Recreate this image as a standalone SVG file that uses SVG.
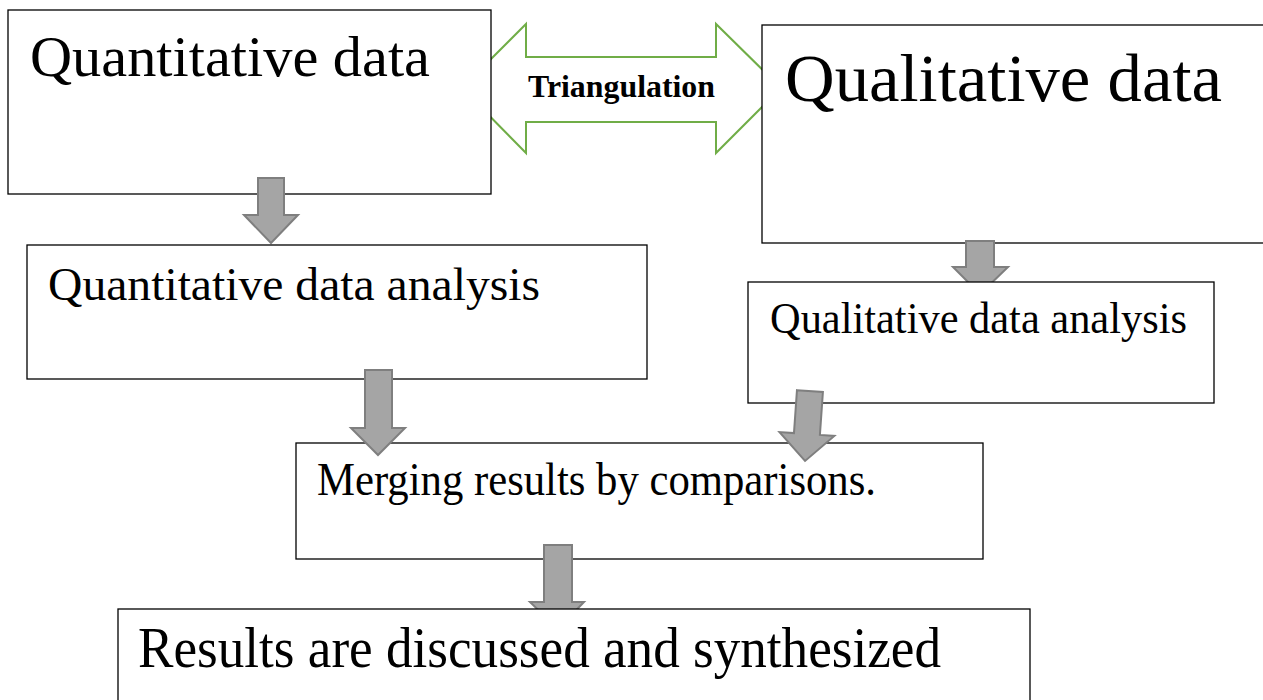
<svg xmlns="http://www.w3.org/2000/svg" width="1263" height="700" viewBox="0 0 1263 700">
  <style>
    .box { fill: #ffffff; stroke: #000000; stroke-width: 1.3; }
    .lbl { font-family: "Liberation Serif", "Times New Roman", serif; fill: #000000; }
    .down { fill: #a5a5a5; stroke: #7f7f7f; stroke-width: 2; stroke-linejoin: miter; }
    .both { fill: #ffffff; stroke: #70ad47; stroke-width: 2; }
  </style>

  <rect width="1263" height="700" fill="#ffffff"/>

  <!-- two-headed link between the data boxes -->
  <g id="triangulation">
    <polygon class="both" points="462,88 526,24 526,57 716,57 716,24 781,88 716,153 716,122 526,122 526,153"/>
    <text class="lbl" x="621.5" y="97" font-size="31" font-weight="bold" text-anchor="middle" textLength="187" lengthAdjust="spacingAndGlyphs">Triangulation</text>
  </g>

  <g id="quantitative-data">
    <rect class="box" x="8" y="10" width="483" height="184"/>
    <text class="lbl" x="30" y="76" font-size="58" textLength="400" lengthAdjust="spacingAndGlyphs">Quantitative data</text>
  </g>

  <g id="qualitative-data">
    <rect class="box" x="762" y="25" width="520" height="218"/>
    <text class="lbl" x="785" y="101" font-size="68" textLength="437" lengthAdjust="spacingAndGlyphs">Qualitative data</text>
  </g>

  <!-- flow arrows (upper pair) -->
  <g id="connectors-upper">
    <polygon class="down" points="258,178 284,178 284,215 298,215 271,243 244,215 258,215"/>
    <polygon class="down" points="966,241 994,241 994,267 1008,267 980,294 953,267 966,267"/>
  </g>

  <g id="quantitative-analysis">
    <rect class="box" x="27" y="245" width="620" height="134"/>
    <text class="lbl" x="48" y="300" font-size="46" textLength="492" lengthAdjust="spacingAndGlyphs">Quantitative data analysis</text>
  </g>

  <g id="qualitative-analysis">
    <rect class="box" x="748" y="282" width="466" height="121"/>
    <text class="lbl" x="770" y="333" font-size="44" textLength="417" lengthAdjust="spacingAndGlyphs">Qualitative data analysis</text>
  </g>

  <g id="merging">
    <rect class="box" x="296" y="443" width="687" height="116"/>
    <text class="lbl" x="317" y="495" font-size="46" textLength="559" lengthAdjust="spacingAndGlyphs">Merging results by comparisons.</text>
  </g>

  <!-- flow arrows (lower) -->
  <g id="connectors-lower">
    <polygon class="down" points="365,370 392,370 392,428 405,428 378,455 351,428 365,428"/>
    <polygon class="down" points="794.5,391 820.5,391 820.5,434 835,434 807.5,461 780,434 794.5,434" transform="rotate(4 807.5 426)"/>
    <polygon class="down" points="544,545 572,545 572,602 584,602 558,629 530,602 544,602"/>
  </g>

  <g id="results">
    <rect class="box" x="118" y="609" width="912" height="110"/>
    <text class="lbl" x="138" y="667" font-size="56" textLength="803" lengthAdjust="spacingAndGlyphs">Results are discussed and synthesized</text>
  </g>
</svg>
